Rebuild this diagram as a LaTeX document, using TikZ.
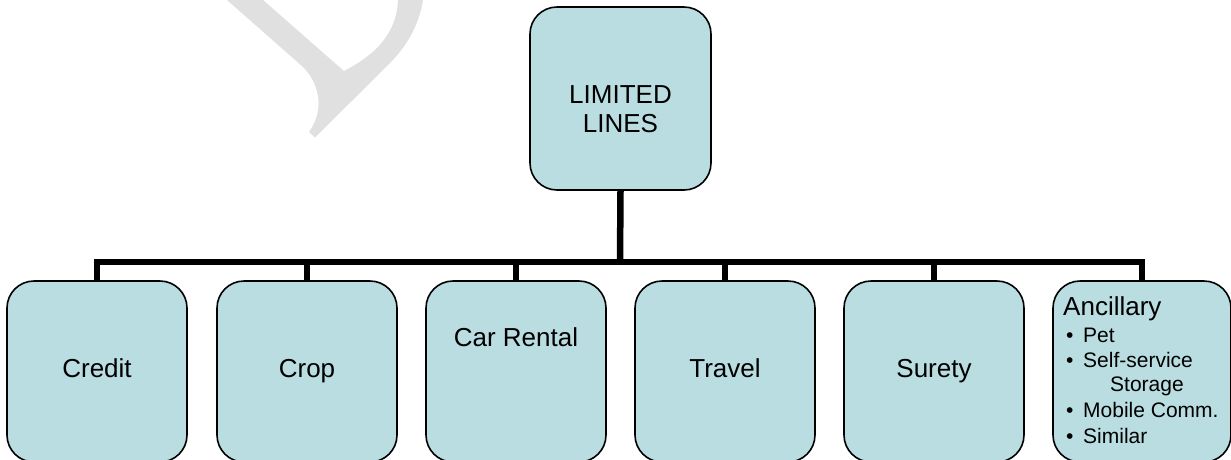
\documentclass[tikz,border=0pt]{standalone}
\usepackage{fontspec}
\setmainfont{Liberation Sans}
\definecolor{boxfill}{RGB}{185,221,225}
\definecolor{markgray}{RGB}{224,224,224}
\begin{document}
\begin{tikzpicture}[x=1pt,y=-1pt,
  box/.style={draw=black,line width=1.6pt,fill=boxfill,rounded corners=27pt,
    inner sep=0pt,minimum width=180pt,minimum height=181pt},
  conn/.style={draw=black,line width=6.5pt},
  big/.style={inner sep=0pt,anchor=base,font=\fontsize{26}{30}\selectfont},
  small/.style={inner sep=0pt,anchor=base west,font=\fontsize{21}{25}\selectfont}]
\useasboundingbox (0,0) rectangle (1231,459);

% faint watermark stroke in the upper left
\fill[markgray] (227,0) -- (303,67)
  .. controls (318,82) and (326,108) .. (309,132)
  -- (315,137.5) -- (390,63)
  .. controls (410,43) and (420,20) .. (423,0)
  -- (398,0)
  .. controls (397,25) and (385,50) .. (344,71)
  -- (263,0) -- cycle;

% root box
\node[box,minimum width=181pt,minimum height=183pt] (root) at (620.5,98.5) {};
\node[big] (rootA) at (620.5,103) {LIMITED};
\node[big] (rootB) at (620.5,132) {LINES};

% child boxes
\node[box] (credit) at (97,371.5) {};
\node[box] (crop)   at (307,371.5) {};
\node[box] (car)    at (516,371.5) {};
\node[box] (travel) at (725,371.5) {};
\node[box] (surety) at (934,371.5) {};
\node[box,minimum width=178pt] (anc) at (1142,371.5) {};

% connectors
\coordinate (bus) at (620,262);
\draw[conn] (root.south) -- (bus);
\foreach \c in {credit,crop,car,travel,surety,anc}
  \draw[conn] (bus) -| (\c.north);

% labels
\node[big] (tCredit) at (97,377) {Credit};
\node[big] (tCrop)   at (307,377) {Crop};
\node[big] (tCar)    at (516,346) {Car Rental};
\node[big] (tTravel) at (725,377) {Travel};
\node[big] (tSurety) at (934,377) {Surety};

\node[big,anchor=base west] (tAnc) at (1063,315) {Ancillary};
\foreach \y/\t [count=\i] in {342.7/Pet,367.3/Self-service,417.3/Mobile Comm.,443.3/Similar}{
  \node[small] (b\i) at (1066,\y) {•};
  \node[small] (i\i) at (1083,\y) {\t};
}
\node[small] (i2b) at (1110,391) {Storage};
\end{tikzpicture}
\end{document}
